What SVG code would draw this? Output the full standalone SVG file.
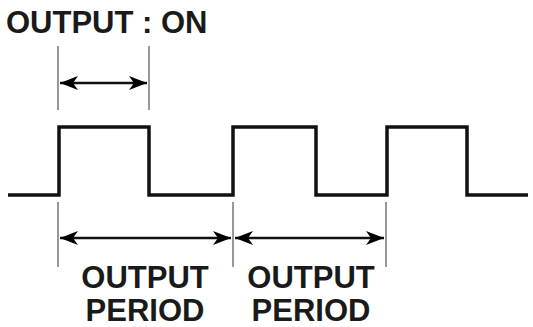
<svg xmlns="http://www.w3.org/2000/svg" width="533" height="327" viewBox="0 0 533 327">
<defs>
<marker id="ah" viewBox="0 0 18 14" refX="18" refY="7" markerWidth="18" markerHeight="14" markerUnits="userSpaceOnUse" orient="auto-start-reverse">
<path d="M0,0 L18,7 L0,14 L5,7 Z" fill="#000"/>
</marker>
<style>
.wave{fill:none;stroke:#111;stroke-width:3.5;stroke-linejoin:miter}
.ext{stroke:#333;stroke-width:1}
.dim{stroke:#111;stroke-width:2.5;marker-start:url(#ah);marker-end:url(#ah)}
.lbl{font-family:"Liberation Sans",Arial,sans-serif;font-weight:bold;font-size:31px;fill:#1a1a1a}
</style>
</defs>
<rect width="533" height="327" fill="#fff"/>
<g id="title"><text class="lbl" x="6" y="33">OUTPUT : ON</text></g>
<g id="waveform">
<path class="wave" d="M8,195 H59 V127 H149 V195 H233 V127 H316 V195 H387 V127 H467 V195 H528"/>
</g>
<g id="connectors">
<line class="ext" x1="58" y1="46" x2="58" y2="110"/>
<line class="ext" x1="149" y1="46" x2="149" y2="110"/>
<line class="dim" x1="60" y1="83" x2="147" y2="83"/>
<line class="ext" x1="58" y1="202" x2="58" y2="267"/>
<line class="ext" x1="233" y1="202" x2="233" y2="267"/>
<line class="ext" x1="386" y1="202" x2="386" y2="267"/>
<line class="dim" x1="60" y1="238" x2="231" y2="238"/>
<line class="dim" x1="235" y1="238" x2="384" y2="238"/>
</g>
<g id="label1"><text class="lbl" text-anchor="middle" x="145" y="288">OUTPUT</text><text class="lbl" text-anchor="middle" x="145" y="321">PERIOD</text></g>
<g id="label2"><text class="lbl" text-anchor="middle" x="311" y="288">OUTPUT</text><text class="lbl" text-anchor="middle" x="311" y="321">PERIOD</text></g>
</svg>
